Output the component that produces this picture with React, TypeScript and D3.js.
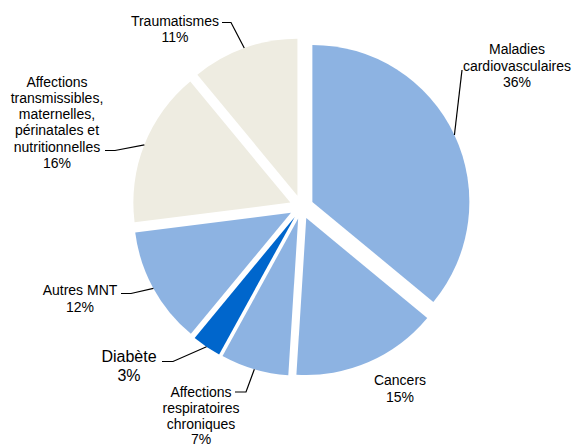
import React from "react";
import * as d3 from "d3";

const categories = [
  "Maladies cardiovasculaires",
  "Cancers",
  "Affections respiratoires chroniques",
  "Diabète",
  "Autres MNT",
  "Affections transmissibles, maternelles, périnatales et nutritionnelles",
  "Traumatismes",
];
const values = [36, 15, 7, 3, 12, 16, 11];
const colors = ["#8DB3E2", "#8DB3E2", "#8DB3E2", "#0066CC", "#8DB3E2", "#EEECE1", "#EEECE1"];
const labelLines = [
  ["Maladies", "cardiovasculaires", "36%"],
  ["Cancers", "15%"],
  ["Affections", "respiratoires", "chroniques", "7%"],
  ["Diabète", "3%"],
  ["Autres MNT", "12%"],
  ["Affections", "transmissibles,", "maternelles,", "périnatales et", "nutritionnelles", "16%"],
  ["Traumatismes", "11%"],
];

// layout for labels: text center x, first line baseline, font size, line height, leader start (or null)
const labelLayout = [
  { x: 517, y: 54, fs: 14, lh: 16.5, lead: [462, 70] as [number, number] | null, knee: null as [number, number] | null },
  { x: 400, y: 385, fs: 14, lh: 16.5, lead: null, knee: null },
  { x: 201, y: 397, fs: 14, lh: 15.8, lead: [235, 392], knee: [246, 392] },
  { x: 129, y: 362, fs: 16, lh: 18.5, lead: [162, 361.5], knee: [173, 361.5] },
  { x: 80, y: 295, fs: 14, lh: 16.5, lead: [121, 293.5], knee: [131, 293.5] },
  { x: 57, y: 86.5, fs: 14, lh: 16.3, lead: [105, 150.5], knee: [115, 150.5] },
  { x: 175, y: 25.5, fs: 14, lh: 16.5, lead: [222, 22.5], knee: [231, 22.5] },
];

const W = 574;
const H = 444;
const CX = 301.5;
const CY = 207;
const R = 157;
const EXPLODE = 12;

export default function App() {
  const data = categories.map((c, i) => ({ name: c, value: values[i], i }));
  const pie = d3
    .pie<any>()
    .sort(null)
    .value((d: any) => d.value)
    .startAngle(0)
    .endAngle(2 * Math.PI);
  const arcs = pie(data);
  const arcGen = d3.arc<any>().innerRadius(0).outerRadius(R);

  return (
    <svg
      width={W}
      height={H}
      style={{ position: "absolute", left: 0, top: 0, background: "#fff" }}
      fontFamily="'Liberation Sans', Arial, sans-serif"
    >
      <g transform={`translate(${CX},${CY})`}>
        {arcs.map((a, k) => {
          const mid = (a.startAngle + a.endAngle) / 2;
          const dx = Math.sin(mid) * EXPLODE;
          const dy = -Math.cos(mid) * EXPLODE;
          return (
            <path
              key={k}
              d={arcGen(a) as string}
              transform={`translate(${dx},${dy})`}
              fill={colors[k]}
            />
          );
        })}
      </g>
      {arcs.map((a, k) => {
        const L = labelLayout[k];
        const mid = (a.startAngle + a.endAngle) / 2;
        const ax = CX + Math.sin(mid) * (R + EXPLODE);
        const ay = CY - Math.cos(mid) * (R + EXPLODE);
        let leader = null;
        if (L.lead) {
          const pts: [number, number][] = [L.lead];
          if (L.knee) pts.push(L.knee);
          pts.push([ax, ay]);
          leader = (
            <path
              d={d3.line()(pts) as string}
              fill="none"
              stroke="#000"
              strokeWidth={1.2}
            />
          );
        }
        return (
          <g key={"l" + k}>
            {leader}
            <text textAnchor="middle" fontSize={L.fs} fill="#000">
              {labelLines[k].map((t, j) => (
                <tspan key={j} x={L.x} y={L.y + j * L.lh}>
                  {t}
                </tspan>
              ))}
            </text>
          </g>
        );
      })}
    </svg>
  );
}
